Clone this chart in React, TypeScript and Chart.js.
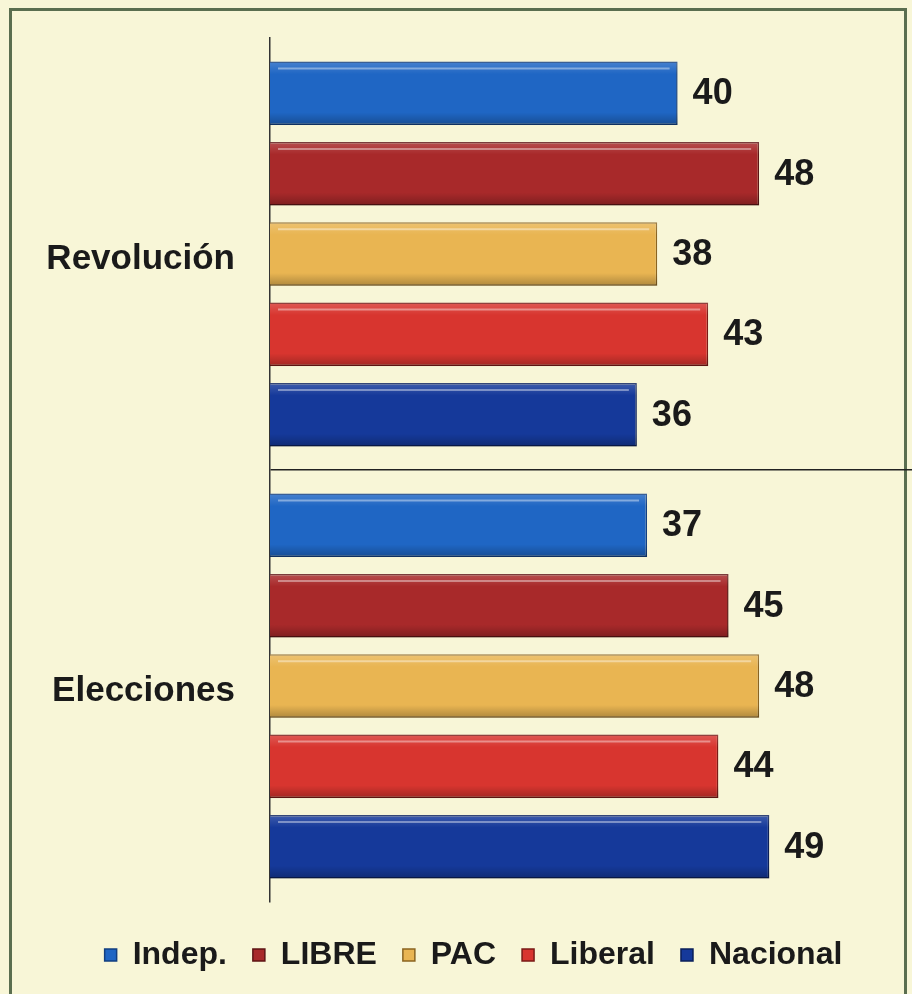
import React, { useEffect, useRef } from "react";
import { Chart, registerables } from "chart.js";

Chart.register(...registerables);

const categories = ["Revolución", "Elecciones"];
const seriesNames = ["Indep.", "LIBRE", "PAC", "Liberal", "Nacional"];
const indep = [40, 37];
const libre = [48, 45];
const pac = [38, 48];
const liberal = [43, 44];
const nacional = [36, 49];
const seriesColors = ["#1f66c4", "#a8292a", "#e9b552", "#d8352f", "#15399a"];
const seriesBorders = ["#123f80", "#5e1414", "#8a6420", "#7a1a16", "#0a1f5a"];
const xMax = 63;

const FONT = "'Liberation Sans', Arial, Helvetica, sans-serif";

const bevelPlugin = {
  id: "bevel",
  afterDatasetsDraw(chart: any) {
    const ctx = chart.ctx;
    chart.data.datasets.forEach((_: any, di: number) => {
      const meta = chart.getDatasetMeta(di);
      meta.data.forEach((bar: any) => {
        const { x, y, base, height } = bar.getProps(["x", "y", "base", "height"], true);
        const left = Math.min(x, base);
        const right = Math.max(x, base);
        const top = y - height / 2;
        const bottom = y + height / 2;
        ctx.save();
        const g = ctx.createLinearGradient(0, top, 0, bottom);
        g.addColorStop(0, "rgba(255,255,255,0.18)");
        g.addColorStop(0.2, "rgba(255,255,255,0.0)");
        g.addColorStop(0.8, "rgba(0,0,0,0.0)");
        g.addColorStop(1, "rgba(0,0,0,0.25)");
        ctx.fillStyle = g;
        ctx.fillRect(left, top, right - left, bottom - top);
        ctx.strokeStyle = "rgba(255,255,255,0.4)";
        ctx.lineWidth = 2;
        ctx.beginPath();
        ctx.moveTo(left + 8, top + 7);
        ctx.lineTo(right - 8, top + 7);
        ctx.stroke();
        ctx.restore();
      });
    });
  },
};

const valueLabelPlugin = {
  id: "valueLabels",
  afterDatasetsDraw(chart: any) {
    const ctx = chart.ctx;
    ctx.save();
    ctx.font = `bold 36px ${FONT}`;
    ctx.fillStyle = "#1a1a1a";
    ctx.textAlign = "left";
    ctx.textBaseline = "middle";
    chart.data.datasets.forEach((ds: any, di: number) => {
      const meta = chart.getDatasetMeta(di);
      meta.data.forEach((bar: any, i: number) => {
        const { x, y } = bar.getProps(["x", "y"], true);
        ctx.fillText(String(ds.data[i]), x + 15, y + 1);
      });
    });
    ctx.restore();
  },
};

export default function App() {
  const canvasRef = useRef<HTMLCanvasElement | null>(null);

  useEffect(() => {
    const canvas = canvasRef.current;
    if (!canvas) return;
    const seriesData = [indep, libre, pac, liberal, nacional];
    const chart = new Chart(canvas, {
      type: "bar",
      data: {
        labels: categories,
        datasets: seriesNames.map((name, i) => ({
          label: name,
          data: seriesData[i],
          backgroundColor: seriesColors[i],
          borderColor: seriesBorders[i],
          borderWidth: 1.5,
          barPercentage: 0.79,
          categoryPercentage: 0.93,
        })),
      },
      options: {
        indexAxis: "y",
        responsive: false,
        animation: false,
        maintainAspectRatio: false,
        layout: { padding: { top: 38, left: 35, right: 0, bottom: 13 } },
        plugins: {
          legend: {
            display: true,
            position: "bottom",
            labels: {
              boxWidth: 12,
              boxHeight: 12,
              padding: 26,
              color: "#1a1a1a",
              font: { family: FONT, size: 32, weight: "bold" },
            },
          },
          tooltip: { enabled: false },
        },
        scales: {
          x: {
            type: "linear",
            min: 0,
            max: xMax,
            display: true,
            ticks: { display: false },
            grid: { display: false },
            border: { display: false },
            afterFit: (s: any) => {
              s.height = 11;
            },
          },
          y: {
            type: "category",
            offset: true,
            ticks: {
              color: "#1a1a1a",
              padding: 35,
              labelOffset: 5,
              font: { family: FONT, size: 35, weight: "bold" },
            },
            grid: {
              display: true,
              offset: true,
              drawTicks: false,
              lineWidth: 1.5,
              color: (c: any) => (c.index === 1 ? "#222222" : "rgba(0,0,0,0)"),
            },
            border: { display: true, color: "#333333", width: 1.5 },
            afterFit: (s: any) => {
              s.width = 235;
              s.paddingTop = 0;
              s.paddingBottom = 0;
            },
          },
        },
      },
      plugins: [bevelPlugin, valueLabelPlugin],
    });
    return () => chart.destroy();
  }, []);

  return (
    <div
      style={{
        position: "fixed",
        left: 0,
        top: 0,
        width: 912,
        height: 994,
        background: "#f8f6d7",
        overflow: "hidden",
      }}
    >
      <div
        style={{
          position: "absolute",
          left: 9,
          top: 8,
          width: 898,
          height: 1010,
          border: "3px solid #5a6e4f",
          boxSizing: "border-box",
        }}
      />
      <canvas
        ref={canvasRef}
        width={912}
        height={994}
        style={{ position: "absolute", left: 0, top: 0, width: 912, height: 994 }}
      />
    </div>
  );
}
